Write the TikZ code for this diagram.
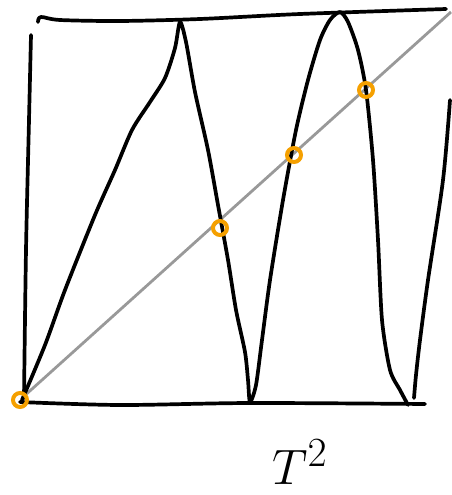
\documentclass[tikz,border=0pt]{standalone}
\usepackage{graphicx}
\usepackage{tikz}
\usepackage{xcolor}
\usetikzlibrary{positioning}
\definecolor{fpOrange}{HTML}{F5A000}
\definecolor{diagGray}{HTML}{999999}

\begin{document}
\begin{tikzpicture}[x=1pt, y=-1pt,
  ink/.style={line width=3.7pt, line cap=round, line join=round},
  diag/.style={draw=diagGray, line width=2.8pt},
  fixpt/.style={circle, draw=fpOrange, line width=4pt, minimum size=14pt, inner sep=0pt},
  mapname/.style={font=\Huge, inner sep=0pt},
]
  \useasboundingbox (0,0) rectangle (451,495);
  % frame of the unit square
  \draw[ink] plot[smooth, tension=0.5] coordinates {(38,22) (41,17) (60,20) (120,21) (200,19) (300,14) (446,9)};
  \draw[ink] plot[smooth, tension=0.5] coordinates {(31,35) (29,120) (26,250) (24,398)};
  \draw[ink] plot[smooth, tension=0.5] coordinates {(20,402) (120,405) (250,403) (425,404)};
  \draw[ink] plot[smooth, tension=0.5] coordinates {(450,100) (443,180) (428,280) (420,340) (416,375) (414,398)};
  % diagonal y = x
  \coordinate (d0) at (22,398);
  \coordinate (d1) at (451,12);
  \draw[diag] (d0) -- (d1);
  % graph of T^2
  \draw[ink] plot[smooth, tension=0.45] coordinates {
    (22,400) (45,345) (65,290) (95,215) (115,170) (132,130) (150,102) (165,78) (175,48) (180,22)
    (186,42) (195,92) (208,150) (218,205) (228,260) (236,310) (245,352) (248,380) (250,402)
    (256,385) (262,340) (270,280) (283,200) (296,130) (308,80) (320,40) (330,20) (340,12)
    (348,22) (358,50) (366,90) (373,160) (378,240) (382,320) (390,370) (400,390) (408,405)};
  % fixed points
  \node[fixpt] (fp0) at (20,400) {};
  \node[fixpt] (fp1) at (220,228) {};
  \node[fixpt] (fp2) at (294,155) {};
  \node[fixpt] (fp3) at (366,90) {};
  % label
  \node[mapname] (lbl) at (300,462) {\scalebox{2}{$T^2$}};
\end{tikzpicture}
\end{document}
